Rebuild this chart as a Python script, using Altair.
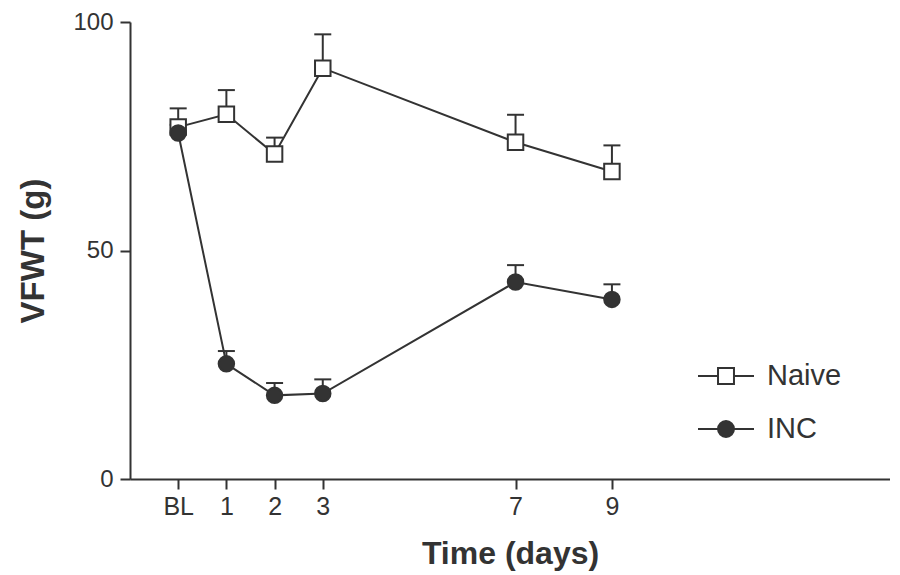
import altair as alt
import pandas as pd

# ---- data ----
days = [0, 1, 2, 3, 7, 9]
groups = ["Naive", "INC"]
naive_mean = [77.0, 79.8, 71.1, 89.9, 73.7, 67.3]
naive_sem = [4.1, 5.3, 3.6, 7.4, 6.0, 5.7]
inc_mean = [75.7, 25.2, 18.3, 18.7, 43.1, 39.3]
inc_sem = [1.8, 2.8, 2.7, 3.1, 3.7, 3.3]

rows = []
for g, means, sems in [("Naive", naive_mean, naive_sem), ("INC", inc_mean, inc_sem)]:
    for d, m, s in zip(days, means, sems):
        rows.append({"day": d, "group": g, "mean": m, "upper": m + s})
df = pd.DataFrame(rows)

INK = "#333333"
FONT = "Liberation Sans, Arial, Helvetica, sans-serif"

# legend glyphs: a line segment with the marker in its middle
sq = "M-2,0H-0.57M0.57,0H2M-0.57,-0.57H0.57V0.57H-0.57Z"
ci = "M-2,0H-0.57M0.57,0H2M-0.57,0A0.57,0.57,0,1,0,0.57,0A0.57,0.57,0,1,0,-0.57,0Z"

x_enc = alt.X(
    "day:Q",
    scale=alt.Scale(domain=[-1, 14.77], nice=False, zero=False),
    axis=alt.Axis(
        values=days,
        labelExpr="datum.value == 0 ? 'BL' : datum.label",
        title="Time (days)",
        tickSize=10,
        labelPadding=5,
        titlePadding=19,
        labelFontSize=25,
        titleFontSize=32,
    ),
)
y_enc = alt.Y(
    "mean:Q",
    scale=alt.Scale(domain=[0, 100], nice=False),
    axis=alt.Axis(
        values=[0, 50, 100],
        title="VFWT (g)",
        tickSize=10,
        labelPadding=7,
        titlePadding=22,
        labelFontSize=24,
        titleFontSize=33,
    ),
)

base = alt.Chart(df)

lines = base.mark_line(color=INK, strokeWidth=2).encode(
    x=x_enc, y=y_enc, detail="group:N"
)
bars = base.mark_rule(color=INK, strokeWidth=2).encode(
    x="day:Q", y="mean:Q", y2="upper:Q"
)
caps = base.mark_tick(color=INK, thickness=2, size=17, orient="horizontal", opacity=1).encode(
    x="day:Q", y="upper:Q"
)
naive_pts = base.transform_filter("datum.group == 'Naive'").mark_point(
    shape="square", size=240, strokeWidth=2, stroke=INK, fill="white", opacity=1, filled=True
).encode(x="day:Q", y="mean:Q")
inc_pts = base.transform_filter("datum.group == 'INC'").mark_point(
    shape="circle", size=240, strokeWidth=2, stroke=INK, fill=INK, opacity=1, filled=True
).encode(x="day:Q", y="mean:Q")

legend_layer = base.transform_filter("false").mark_point(
    strokeWidth=2, stroke=INK, opacity=1, filled=True
).encode(
    x="day:Q",
    y="mean:Q",
    shape=alt.Shape("group:N", scale=alt.Scale(domain=groups, range=[sq, ci])),
    fill=alt.Fill(
        "group:N",
        scale=alt.Scale(domain=groups, range=["white", INK]),
        legend=alt.Legend(
            title=None,
            orient="none",
            legendX=581,
            legendY=339,
            padding=0,
            labelFontSize=29,
            labelFont=FONT,
            labelColor=INK,
            labelOffset=26,
            rowPadding=23,
            symbolSize=784,
            symbolStrokeWidth=2,
            symbolStrokeColor=INK,
        ),
    ),
)

chart = (
    alt.layer(lines, bars, caps, naive_pts, inc_pts, legend_layer)
    .properties(
        width=760,
        height=457,
        autosize=alt.AutoSizeParams(type="none"),
        padding={"left": 122, "top": 14, "right": 0, "bottom": 94},
        background="white",
    )
    .configure_view(stroke=None)
    .configure_axis(
        grid=False,
        domainColor=INK,
        domainWidth=2,
        tickColor=INK,
        tickWidth=2,
        labelColor=INK,
        titleColor=INK,
        labelFont=FONT,
        titleFont=FONT,
        titleFontWeight="bold",
        labelFlush=False,
        labelOverlap=False,
    )
)

chart.save("out.html", embed_options={"renderer": "svg", "actions": False})
